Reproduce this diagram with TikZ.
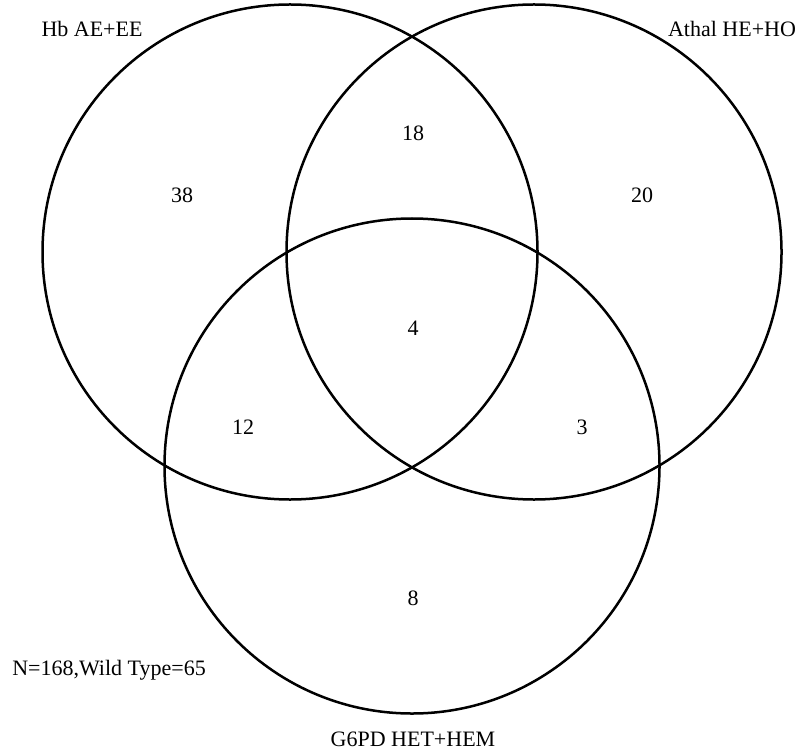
\documentclass[tikz,border=0pt]{standalone}
\usepackage{fontspec}
\setmainfont{Liberation Serif}
\usepackage{tikz}
\tikzset{
  vennset/.style={
    draw=black,
    circle,
    line width=1.25pt,
    minimum size=247.5pt,
    inner sep=0pt
  },
  venncount/.style={
    anchor=base,
    font=\fontsize{11}{13}\selectfont,
    inner sep=0pt
  },
  vennlabel/.style={
    anchor=base,
    font=\fontsize{11}{13}\selectfont,
    inner sep=0pt
  }
}

\begin{document}
\begin{tikzpicture}[x=0.5pt,y=-0.5pt]
  \useasboundingbox (0,0) rectangle (801,753);
  % the three sets
  \node[vennset] (hb) at (290,252) {};
  \node[vennset] (athal) at (534,252) {};
  \node[vennset] (gpd) at (412,466) {};
  % set names
  \node[vennlabel] (hbname) at (92,37) {Hb AE+EE};
  \node[vennlabel] (athalname) at (732,37) {Athal HE+HO};
  \node[vennlabel] (gpdname) at (413,746) {G6PD HET+HEM};
  \node[vennlabel] (total) at (109,675.5) {N=168,Wild Type=65};
  % counts
  \node[venncount] (onlyhb) at (182,202.5) {38};
  \node[venncount] (hbathal) at (413,140.5) {18};
  \node[venncount] (onlyathal) at (642,202.5) {20};
  \node[venncount] (allthree) at (413,335.5) {4};
  \node[venncount] (hbgpd) at (243,434.5) {12};
  \node[venncount] (athalgpd) at (582,434.5) {3};
  \node[venncount] (onlygpd) at (413,605.5) {8};
\end{tikzpicture}
\end{document}
